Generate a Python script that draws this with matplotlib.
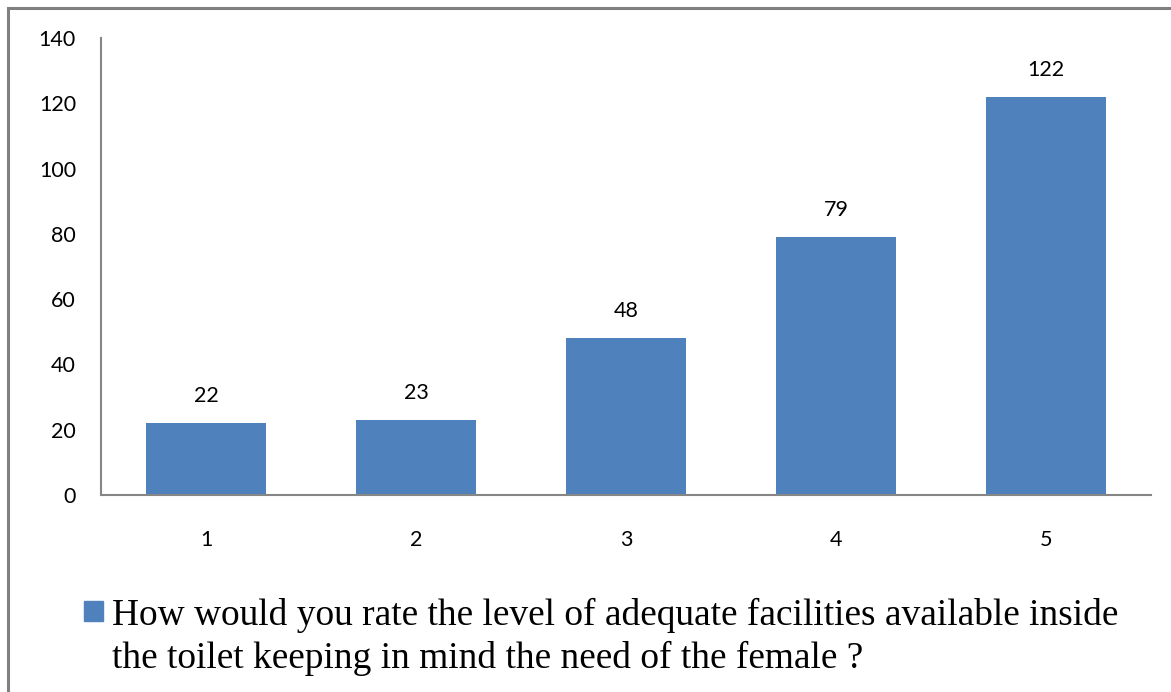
import matplotlib
matplotlib.use("Agg")
import matplotlib.pyplot as plt
from matplotlib.patches import Rectangle

categories = ["1", "2", "3", "4", "5"]
counts = [22, 23, 48, 79, 122]
legend_lines = ["How would you rate the level of adequate facilities available inside",
                "the toilet keeping in mind the need of the female ?"]

W, H = 1171, 692
fig = plt.figure(figsize=(W / 100, H / 100), dpi=100)
ax = fig.add_axes([101 / W, 1 - 495 / H, 1050 / W, 457 / H])

bar_color = "#4F81BD"
axis_color = "#868686"
x = range(len(categories))
bars = ax.bar(x, counts, width=0.57, color=bar_color)
for b, v in zip(bars, counts):
    ax.annotate(str(v), (b.get_x() + b.get_width() / 2, v), xytext=(0, 27),
                textcoords="offset pixels", ha="center", va="center",
                fontsize=15.5, family="Lato")

ax.set_xlim(-0.5, len(categories) - 0.5)
ax.set_ylim(0, 140)
ax.set_yticks(range(0, 141, 20))
ax.set_xticks(list(x))
ax.set_xticklabels(categories)
ax.tick_params(length=0, labelsize=15.5)
ax.tick_params(axis="y", pad=18)
ax.tick_params(axis="x", pad=25)
for lab in ax.get_xticklabels() + ax.get_yticklabels():
    lab.set_family("Lato")
for s in ["top", "right"]:
    ax.spines[s].set_visible(False)
for s in ["left", "bottom"]:
    ax.spines[s].set_color(axis_color)
    ax.spines[s].set_linewidth(1.5)

# outer frame (only top and left edges are visible in the crop)
fig.patches.append(Rectangle((8 / W, -0.2), 1.5, 1.2 - 8 / H,
                             transform=fig.transFigure, fill=False,
                             edgecolor="#808080", linewidth=2.2))

# legend drawn by hand so the marker sits on the first line
fig.patches.append(Rectangle((84 / W, 1 - 621 / H), 19 / W, 20 / H,
                             transform=fig.transFigure, color=bar_color))
fig.text(112 / W, 1 - 625 / H, legend_lines[0], family="Liberation Serif",
         fontsize=26.9, va="baseline", ha="left")
fig.text(112 / W, 1 - 668 / H, legend_lines[1], family="Liberation Serif",
         fontsize=26.9, va="baseline", ha="left")

fig.savefig("out.png", dpi=100)
